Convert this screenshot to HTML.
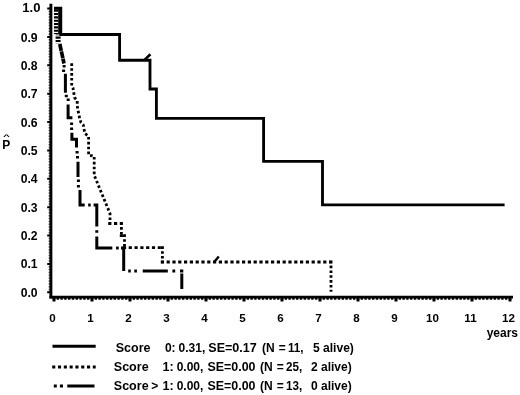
<!DOCTYPE html>
<html><head><meta charset="utf-8"><title>Survival</title>
<style>
html,body{margin:0;padding:0;background:#fff}
svg{display:block}
text{font-family:"Liberation Sans",sans-serif;font-weight:bold;fill:#000}
</style></head><body>
<svg width="520" height="395" viewBox="0 0 520 395">
<rect width="520" height="395" fill="#fff"/>
<g stroke="#000" fill="none">
<line x1="50.9" y1="3.8" x2="50.9" y2="298.6" stroke-width="2.9"/>
<line x1="49.45" y1="297.1" x2="513" y2="297.1" stroke-width="2.8"/>
<path d="M48.7,292.30H50.5M48.7,289.46H50.5M48.7,286.63H50.5M48.7,283.79H50.5M48.7,280.95H50.5M48.7,278.12H50.5M48.7,275.28H50.5M48.7,272.44H50.5M48.7,269.60H50.5M48.7,266.77H50.5M48.7,263.93H50.5M48.7,261.09H50.5M48.7,258.26H50.5M48.7,255.42H50.5M48.7,252.58H50.5M48.7,249.75H50.5M48.7,246.91H50.5M48.7,244.07H50.5M48.7,241.23H50.5M48.7,238.40H50.5M48.7,235.56H50.5M48.7,232.72H50.5M48.7,229.89H50.5M48.7,227.05H50.5M48.7,224.21H50.5M48.7,221.38H50.5M48.7,218.54H50.5M48.7,215.70H50.5M48.7,212.86H50.5M48.7,210.03H50.5M48.7,207.19H50.5M48.7,204.35H50.5M48.7,201.52H50.5M48.7,198.68H50.5M48.7,195.84H50.5M48.7,193.00H50.5M48.7,190.17H50.5M48.7,187.33H50.5M48.7,184.49H50.5M48.7,181.66H50.5M48.7,178.82H50.5M48.7,175.98H50.5M48.7,173.15H50.5M48.7,170.31H50.5M48.7,167.47H50.5M48.7,164.63H50.5M48.7,161.80H50.5M48.7,158.96H50.5M48.7,156.12H50.5M48.7,153.29H50.5M48.7,150.45H50.5M48.7,147.61H50.5M48.7,144.78H50.5M48.7,141.94H50.5M48.7,139.10H50.5M48.7,136.26H50.5M48.7,133.43H50.5M48.7,130.59H50.5M48.7,127.75H50.5M48.7,124.92H50.5M48.7,122.08H50.5M48.7,119.24H50.5M48.7,116.41H50.5M48.7,113.57H50.5M48.7,110.73H50.5M48.7,107.90H50.5M48.7,105.06H50.5M48.7,102.22H50.5M48.7,99.38H50.5M48.7,96.55H50.5M48.7,93.71H50.5M48.7,90.87H50.5M48.7,88.04H50.5M48.7,85.20H50.5M48.7,82.36H50.5M48.7,79.53H50.5M48.7,76.69H50.5M48.7,73.85H50.5M48.7,71.01H50.5M48.7,68.18H50.5M48.7,65.34H50.5M48.7,62.50H50.5M48.7,59.67H50.5M48.7,56.83H50.5M48.7,53.99H50.5M48.7,51.15H50.5M48.7,48.32H50.5M48.7,45.48H50.5M48.7,42.64H50.5M48.7,39.81H50.5M48.7,36.97H50.5M48.7,34.13H50.5M48.7,31.30H50.5M48.7,28.46H50.5M48.7,25.62H50.5M48.7,22.79H50.5M48.7,19.95H50.5M48.7,17.11H50.5M48.7,14.27H50.5M48.7,11.44H50.5M48.7,8.60H50.5" stroke-width="1.5" stroke-opacity="0.75"/>
<path d="M47.2,292.30H50.5M47.2,263.93H50.5M47.2,235.56H50.5M47.2,207.19H50.5M47.2,178.82H50.5M47.2,150.45H50.5M47.2,122.08H50.5M47.2,93.71H50.5M47.2,65.34H50.5M47.2,36.97H50.5M47.2,8.60H50.5" stroke-width="2"/>
<path d="M54.00,297.5V299.7M57.80,297.5V299.7M61.60,297.5V299.7M65.40,297.5V299.7M69.20,297.5V299.7M73.00,297.5V299.7M76.80,297.5V299.7M80.60,297.5V299.7M84.40,297.5V299.7M88.20,297.5V299.7M92.00,297.5V299.7M95.80,297.5V299.7M99.60,297.5V299.7M103.40,297.5V299.7M107.20,297.5V299.7M111.00,297.5V299.7M114.80,297.5V299.7M118.60,297.5V299.7M122.40,297.5V299.7M126.20,297.5V299.7M130.00,297.5V299.7M133.80,297.5V299.7M137.60,297.5V299.7M141.40,297.5V299.7M145.20,297.5V299.7M149.00,297.5V299.7M152.80,297.5V299.7M156.60,297.5V299.7M160.40,297.5V299.7M164.20,297.5V299.7M168.00,297.5V299.7M171.80,297.5V299.7M175.60,297.5V299.7M179.40,297.5V299.7M183.20,297.5V299.7M187.00,297.5V299.7M190.80,297.5V299.7M194.60,297.5V299.7M198.40,297.5V299.7M202.20,297.5V299.7M206.00,297.5V299.7M209.80,297.5V299.7M213.60,297.5V299.7M217.40,297.5V299.7M221.20,297.5V299.7M225.00,297.5V299.7M228.80,297.5V299.7M232.60,297.5V299.7M236.40,297.5V299.7M240.20,297.5V299.7M244.00,297.5V299.7M247.80,297.5V299.7M251.60,297.5V299.7M255.40,297.5V299.7M259.20,297.5V299.7M263.00,297.5V299.7M266.80,297.5V299.7M270.60,297.5V299.7M274.40,297.5V299.7M278.20,297.5V299.7M282.00,297.5V299.7M285.80,297.5V299.7M289.60,297.5V299.7M293.40,297.5V299.7M297.20,297.5V299.7M301.00,297.5V299.7M304.80,297.5V299.7M308.60,297.5V299.7M312.40,297.5V299.7M316.20,297.5V299.7M320.00,297.5V299.7M323.80,297.5V299.7M327.60,297.5V299.7M331.40,297.5V299.7M335.20,297.5V299.7M339.00,297.5V299.7M342.80,297.5V299.7M346.60,297.5V299.7M350.40,297.5V299.7M354.20,297.5V299.7M358.00,297.5V299.7M361.80,297.5V299.7M365.60,297.5V299.7M369.40,297.5V299.7M373.20,297.5V299.7M377.00,297.5V299.7M380.80,297.5V299.7M384.60,297.5V299.7M388.40,297.5V299.7M392.20,297.5V299.7M396.00,297.5V299.7M399.80,297.5V299.7M403.60,297.5V299.7M407.40,297.5V299.7M411.20,297.5V299.7M415.00,297.5V299.7M418.80,297.5V299.7M422.60,297.5V299.7M426.40,297.5V299.7M430.20,297.5V299.7M434.00,297.5V299.7M437.80,297.5V299.7M441.60,297.5V299.7M445.40,297.5V299.7M449.20,297.5V299.7M453.00,297.5V299.7M456.80,297.5V299.7M460.60,297.5V299.7M464.40,297.5V299.7M468.20,297.5V299.7M472.00,297.5V299.7M475.80,297.5V299.7M479.60,297.5V299.7M483.40,297.5V299.7M487.20,297.5V299.7M491.00,297.5V299.7M494.80,297.5V299.7M498.60,297.5V299.7M502.40,297.5V299.7M506.20,297.5V299.7M510.00,297.5V299.7" stroke-width="2.4"/>
<path d="M54.00,297.5V301.5M92.00,297.5V301.5M130.00,297.5V301.5M168.00,297.5V301.5M206.00,297.5V301.5M244.00,297.5V301.5M282.00,297.5V301.5M320.00,297.5V301.5M358.00,297.5V301.5M396.00,297.5V301.5M434.00,297.5V301.5M472.00,297.5V301.5M510.00,297.5V301.5" stroke-width="3"/>
</g>
<g font-size="12.2" text-anchor="end">
<text x="37.6" y="296.8">0.0</text>
<text x="37.6" y="268.4">0.1</text>
<text x="37.6" y="240.1">0.2</text>
<text x="37.6" y="211.7">0.3</text>
<text x="37.6" y="183.3">0.4</text>
<text x="37.6" y="155.0">0.5</text>
<text x="37.6" y="126.6">0.6</text>
<text x="37.6" y="98.2">0.7</text>
<text x="37.6" y="69.8">0.8</text>
<text x="37.6" y="41.5">0.9</text>
<text x="40.5" y="12.1" textLength="18.2" lengthAdjust="spacingAndGlyphs">1.0</text>
</g>
<g font-size="11.6" text-anchor="middle">
<text x="52.5" y="322">0</text>
<text x="90.5" y="322">1</text>
<text x="128.5" y="322">2</text>
<text x="166.5" y="322">3</text>
<text x="204.5" y="322">4</text>
<text x="242.5" y="322">5</text>
<text x="280.5" y="322">6</text>
<text x="318.5" y="322">7</text>
<text x="356.5" y="322">8</text>
<text x="394.5" y="322">9</text>
<text x="432.5" y="322">10</text>
<text x="470.5" y="322">11</text>
<text x="508.5" y="322">12</text>
</g>
<text x="518" y="336.8" font-size="12" text-anchor="end">years</text>
<text x="2.2" y="149.4" font-size="12">P</text>
<text transform="translate(6.55,138.4) scale(1.18,0.62)" font-size="10" text-anchor="middle">^</text>
<g stroke="#000" fill="none" stroke-linejoin="miter">
<path d="M54,8.2H60.8V34.5H119.6V60.2H150V89H156.4V118.3H263.6V161.4H322.5V204.9H504.6" stroke-width="2.85"/>
<path d="M144.8,59.6L150.4,54.2" stroke-width="2.6"/>
<path d="M56.15,9.6V34" stroke-width="4.3" stroke-dasharray="2.1 1.25"/>
<path d="M58.1,34.4V43.5" stroke-width="5" stroke-dasharray="2.1 1.25" stroke-dashoffset="1.2"/>
<path d="M59.2,9V34" stroke-width="2"/>
<path d="M59.8,44L64,63.5" stroke-width="3.7" stroke-dasharray="7 0.5"/>
<path d="M71.7,63.3V85.5L73,88L74.5,97.5L77.2,100.8V106L79.7,118.7L81,122.5L83.3,125L84.9,133.5L88.6,136.2V155L94.2,156.2V175.2L110,213.5V222" stroke-width="2.8" stroke-dasharray="2.6 2.3"/>
<path d="M108.2,223.5H122.8M119.8,235.6H125.9M122.9,247.6H163.8M160.8,262H332.4" stroke-width="2.8" stroke-dasharray="3.2 2.6"/>
<path d="M121.4,222.2V236.9M124.5,234.3V248.9M162.4,246.3V263.3M331,260.7V291.8" stroke-width="2.8" stroke-dasharray="2.6 2.25"/><path d="M214.6,261.6L218.8,256.4" stroke-width="2.4"/>
<path d="M64.1,65v2.5M63.6,69.5v2.5M65.4,73.8V92.8M66.3,94.8v2.5M68.2,98.6v2.5M68.1,104.5V117.8H72.4M71.6,122.5v2.5M71.6,127.4v2.5M71.9,132.7V139.2H76.5V147.6M77.1,151.1v2.5M77.5,155.9v2.5M78,161.8V177M78.4,179.6v2.5M78.4,184.9v2.5" stroke-width="3"/><path d="M80,190V205H84.7 M88.2,205h2.5 M93.6,205h2.5 M95.3,205H96.8V226.4 M96.8,230.2v2.6 M96.8,236.6V248H112.3 M116.1,248h2.6 M121,248H123.7V271 M128.2,271h2.6 M134.3,271h2.6 M142.7,271H167.8 M172.4,271h2.8 M180,271h3.3 M181.8,273.5V289" stroke-width="3"/>
</g>
<g stroke="#000" fill="none" stroke-width="2.9">
<path d="M52.5,346.2H95.7"/>
<path d="M52.2,367H95.7" stroke-dasharray="3.1 2.7"/>
<path d="M53.8,386h3 M59.9,386h3.1 M67.3,386H94.5"/>
</g>
<text y="351.6" font-size="12" xml:space="preserve"><tspan x="115.7" textLength="34.8" lengthAdjust="spacingAndGlyphs">Score</tspan><tspan x="164.9">0:</tspan><tspan x="178.6">0.31,</tspan><tspan x="208.3" textLength="48.5" lengthAdjust="spacingAndGlyphs">SE=0.17</tspan><tspan x="261.9">(N</tspan><tspan x="278.7">=</tspan><tspan x="287.9" textLength="15.6" lengthAdjust="spacingAndGlyphs">11,</tspan><tspan x="312.9" textLength="41" lengthAdjust="spacingAndGlyphs">5 alive)</tspan></text>
<text y="370.8" font-size="12" xml:space="preserve"><tspan x="113.8" textLength="34.8" lengthAdjust="spacingAndGlyphs">Score</tspan><tspan x="162.4" textLength="11.2" lengthAdjust="spacingAndGlyphs">1:</tspan><tspan x="176.7">0.00,</tspan><tspan x="207.4" textLength="48.1" lengthAdjust="spacingAndGlyphs">SE=0.00</tspan><tspan x="260.0">(N</tspan><tspan x="276.8">=</tspan><tspan x="286.0" textLength="16.2" lengthAdjust="spacingAndGlyphs">25,</tspan><tspan x="311.0">2 alive)</tspan></text>
<text y="390.4" font-size="12" xml:space="preserve"><tspan x="113.8" textLength="34.8" lengthAdjust="spacingAndGlyphs">Score</tspan><tspan x="151.2">&gt;</tspan><tspan x="162.4" textLength="11.2" lengthAdjust="spacingAndGlyphs">1:</tspan><tspan x="176.7">0.00,</tspan><tspan x="207.4" textLength="48.1" lengthAdjust="spacingAndGlyphs">SE=0.00</tspan><tspan x="260.0">(N</tspan><tspan x="276.8">=</tspan><tspan x="286.0" textLength="16.2" lengthAdjust="spacingAndGlyphs">13,</tspan><tspan x="311.0">0 alive)</tspan></text>
</svg>
</body></html>
